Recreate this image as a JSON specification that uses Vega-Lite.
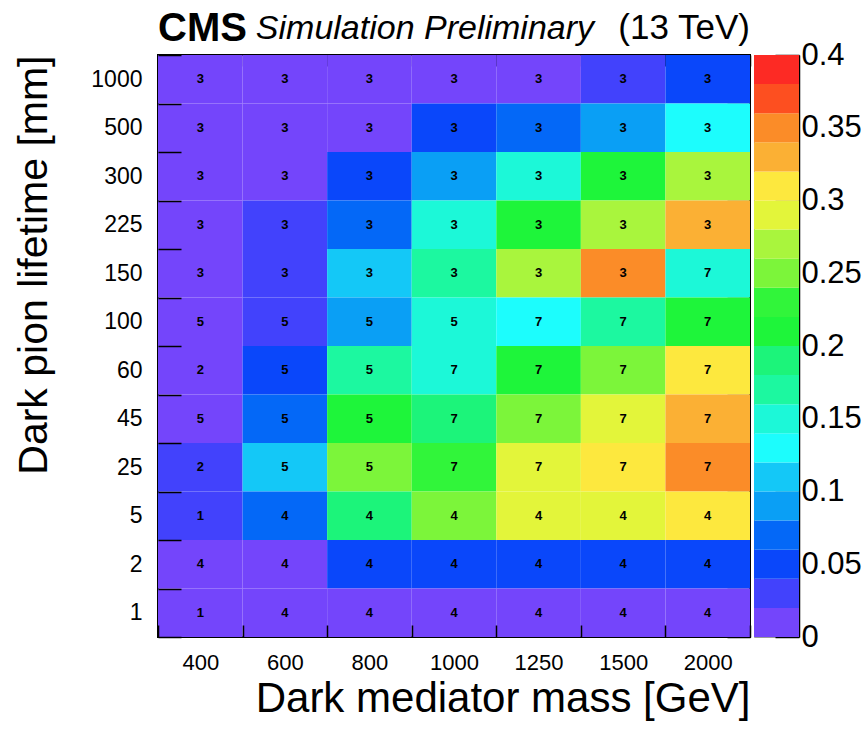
{
  "$schema": "https://vega.github.io/schema/vega-lite/v6.json",
  "background": "white",
  "padding": {"left": 12, "top": 8, "right": 2, "bottom": 4},
  "bounds": "flush",
  "spacing": 4,
  "title": {
    "text": "Simulation Preliminary",
    "fontSize": 34,
    "fontStyle": "italic",
    "fontWeight": "normal",
    "anchor": "start",
    "dx": 243,
    "dy": 42
  },
  "config": {
    "font": "Liberation Sans",
    "view": {"stroke": null},
    "title": {"font": "Liberation Sans", "color": "#000"},
    "axis": {
      "labelFont": "Liberation Sans",
      "titleFont": "Liberation Sans",
      "labelColor": "#000",
      "titleColor": "#000",
      "tickColor": "#000",
      "grid": false
    }
  },
  "datasets": {
    "eff": [
      {"mass": 400, "lifetime": 1000, "eff": 0.01, "n": 3},
      {"mass": 600, "lifetime": 1000, "eff": 0.01, "n": 3},
      {"mass": 800, "lifetime": 1000, "eff": 0.01, "n": 3},
      {"mass": 1000, "lifetime": 1000, "eff": 0.01, "n": 3},
      {"mass": 1250, "lifetime": 1000, "eff": 0.01, "n": 3},
      {"mass": 1500, "lifetime": 1000, "eff": 0.03, "n": 3},
      {"mass": 2000, "lifetime": 1000, "eff": 0.05, "n": 3},

      {"mass": 400, "lifetime": 500, "eff": 0.01, "n": 3},
      {"mass": 600, "lifetime": 500, "eff": 0.01, "n": 3},
      {"mass": 800, "lifetime": 500, "eff": 0.01, "n": 3},
      {"mass": 1000, "lifetime": 500, "eff": 0.05, "n": 3},
      {"mass": 1250, "lifetime": 500, "eff": 0.07, "n": 3},
      {"mass": 1500, "lifetime": 500, "eff": 0.09, "n": 3},
      {"mass": 2000, "lifetime": 500, "eff": 0.13, "n": 3},

      {"mass": 400, "lifetime": 300, "eff": 0.01, "n": 3},
      {"mass": 600, "lifetime": 300, "eff": 0.01, "n": 3},
      {"mass": 800, "lifetime": 300, "eff": 0.05, "n": 3},
      {"mass": 1000, "lifetime": 300, "eff": 0.09, "n": 3},
      {"mass": 1250, "lifetime": 300, "eff": 0.15, "n": 3},
      {"mass": 1500, "lifetime": 300, "eff": 0.21, "n": 3},
      {"mass": 2000, "lifetime": 300, "eff": 0.27, "n": 3},

      {"mass": 400, "lifetime": 225, "eff": 0.01, "n": 3},
      {"mass": 600, "lifetime": 225, "eff": 0.03, "n": 3},
      {"mass": 800, "lifetime": 225, "eff": 0.07, "n": 3},
      {"mass": 1000, "lifetime": 225, "eff": 0.15, "n": 3},
      {"mass": 1250, "lifetime": 225, "eff": 0.21, "n": 3},
      {"mass": 1500, "lifetime": 225, "eff": 0.27, "n": 3},
      {"mass": 2000, "lifetime": 225, "eff": 0.33, "n": 3},

      {"mass": 400, "lifetime": 150, "eff": 0.01, "n": 3},
      {"mass": 600, "lifetime": 150, "eff": 0.03, "n": 3},
      {"mass": 800, "lifetime": 150, "eff": 0.11, "n": 3},
      {"mass": 1000, "lifetime": 150, "eff": 0.17, "n": 3},
      {"mass": 1250, "lifetime": 150, "eff": 0.27, "n": 3},
      {"mass": 1500, "lifetime": 150, "eff": 0.35, "n": 3},
      {"mass": 2000, "lifetime": 150, "eff": 0.15, "n": 7},

      {"mass": 400, "lifetime": 100, "eff": 0.01, "n": 5},
      {"mass": 600, "lifetime": 100, "eff": 0.03, "n": 5},
      {"mass": 800, "lifetime": 100, "eff": 0.09, "n": 5},
      {"mass": 1000, "lifetime": 100, "eff": 0.15, "n": 5},
      {"mass": 1250, "lifetime": 100, "eff": 0.13, "n": 7},
      {"mass": 1500, "lifetime": 100, "eff": 0.17, "n": 7},
      {"mass": 2000, "lifetime": 100, "eff": 0.21, "n": 7},

      {"mass": 400, "lifetime": 60, "eff": 0.01, "n": 2},
      {"mass": 600, "lifetime": 60, "eff": 0.05, "n": 5},
      {"mass": 800, "lifetime": 60, "eff": 0.17, "n": 5},
      {"mass": 1000, "lifetime": 60, "eff": 0.15, "n": 7},
      {"mass": 1250, "lifetime": 60, "eff": 0.21, "n": 7},
      {"mass": 1500, "lifetime": 60, "eff": 0.25, "n": 7},
      {"mass": 2000, "lifetime": 60, "eff": 0.31, "n": 7},

      {"mass": 400, "lifetime": 45, "eff": 0.01, "n": 5},
      {"mass": 600, "lifetime": 45, "eff": 0.07, "n": 5},
      {"mass": 800, "lifetime": 45, "eff": 0.21, "n": 5},
      {"mass": 1000, "lifetime": 45, "eff": 0.19, "n": 7},
      {"mass": 1250, "lifetime": 45, "eff": 0.25, "n": 7},
      {"mass": 1500, "lifetime": 45, "eff": 0.29, "n": 7},
      {"mass": 2000, "lifetime": 45, "eff": 0.33, "n": 7},

      {"mass": 400, "lifetime": 25, "eff": 0.03, "n": 2},
      {"mass": 600, "lifetime": 25, "eff": 0.11, "n": 5},
      {"mass": 800, "lifetime": 25, "eff": 0.25, "n": 5},
      {"mass": 1000, "lifetime": 25, "eff": 0.23, "n": 7},
      {"mass": 1250, "lifetime": 25, "eff": 0.29, "n": 7},
      {"mass": 1500, "lifetime": 25, "eff": 0.31, "n": 7},
      {"mass": 2000, "lifetime": 25, "eff": 0.35, "n": 7},

      {"mass": 400, "lifetime": 5, "eff": 0.03, "n": 1},
      {"mass": 600, "lifetime": 5, "eff": 0.07, "n": 4},
      {"mass": 800, "lifetime": 5, "eff": 0.19, "n": 4},
      {"mass": 1000, "lifetime": 5, "eff": 0.25, "n": 4},
      {"mass": 1250, "lifetime": 5, "eff": 0.29, "n": 4},
      {"mass": 1500, "lifetime": 5, "eff": 0.29, "n": 4},
      {"mass": 2000, "lifetime": 5, "eff": 0.31, "n": 4},

      {"mass": 400, "lifetime": 2, "eff": 0.01, "n": 4},
      {"mass": 600, "lifetime": 2, "eff": 0.01, "n": 4},
      {"mass": 800, "lifetime": 2, "eff": 0.05, "n": 4},
      {"mass": 1000, "lifetime": 2, "eff": 0.05, "n": 4},
      {"mass": 1250, "lifetime": 2, "eff": 0.05, "n": 4},
      {"mass": 1500, "lifetime": 2, "eff": 0.05, "n": 4},
      {"mass": 2000, "lifetime": 2, "eff": 0.05, "n": 4},

      {"mass": 400, "lifetime": 1, "eff": 0.01, "n": 1},
      {"mass": 600, "lifetime": 1, "eff": 0.01, "n": 4},
      {"mass": 800, "lifetime": 1, "eff": 0.01, "n": 4},
      {"mass": 1000, "lifetime": 1, "eff": 0.01, "n": 4},
      {"mass": 1250, "lifetime": 1, "eff": 0.01, "n": 4},
      {"mass": 1500, "lifetime": 1, "eff": 0.01, "n": 4},
      {"mass": 2000, "lifetime": 1, "eff": 0.01, "n": 4}
    ],
    "palette": [
      {"lo": 0.0, "hi": 0.02, "mid": 0.01},
      {"lo": 0.02, "hi": 0.04, "mid": 0.03},
      {"lo": 0.04, "hi": 0.06, "mid": 0.05},
      {"lo": 0.06, "hi": 0.08, "mid": 0.07},
      {"lo": 0.08, "hi": 0.10, "mid": 0.09},
      {"lo": 0.10, "hi": 0.12, "mid": 0.11},
      {"lo": 0.12, "hi": 0.14, "mid": 0.13},
      {"lo": 0.14, "hi": 0.16, "mid": 0.15},
      {"lo": 0.16, "hi": 0.18, "mid": 0.17},
      {"lo": 0.18, "hi": 0.20, "mid": 0.19},
      {"lo": 0.20, "hi": 0.22, "mid": 0.21},
      {"lo": 0.22, "hi": 0.24, "mid": 0.23},
      {"lo": 0.24, "hi": 0.26, "mid": 0.25},
      {"lo": 0.26, "hi": 0.28, "mid": 0.27},
      {"lo": 0.28, "hi": 0.30, "mid": 0.29},
      {"lo": 0.30, "hi": 0.32, "mid": 0.31},
      {"lo": 0.32, "hi": 0.34, "mid": 0.33},
      {"lo": 0.34, "hi": 0.36, "mid": 0.35},
      {"lo": 0.36, "hi": 0.38, "mid": 0.37},
      {"lo": 0.38, "hi": 0.40, "mid": 0.39}
    ]
  },
  "hconcat": [
    {
      "width": 592,
      "height": 582,
      "view": {"stroke": "#000", "strokeWidth": 2},
      "title": {"text": "CMS", "fontSize": 40, "fontWeight": "bold", "anchor": "start", "frame": "group", "offset": -5},
      "data": {"name": "eff"},
      "layer": [
        {
          "mark": {"type": "rect"},
          "encoding": {
            "x": {
              "field": "mass", "type": "ordinal", "sort": "ascending",
              "scale": {"paddingInner": 0, "paddingOuter": 0},
              "axis": {
                "orient": "bottom", "title": "Dark mediator mass [GeV]", "titleFontSize": 42,
                "titleFontWeight": "normal", "titleAnchor": "end", "titlePadding": 5,
                "labelFontSize": 22, "labelAngle": 0, "labelPadding": 27,
                "tickBand": "extent", "tickSize": -12, "tickWidth": 1.5, "domain": false
              }
            },
            "y": {
              "field": "lifetime", "type": "ordinal", "sort": "descending",
              "scale": {"paddingInner": 0, "paddingOuter": 0},
              "axis": {
                "orient": "left", "title": "Dark pion lifetime [mm]", "titleFontSize": 41,
                "titleFontWeight": "normal", "titleAnchor": "start", "titleAlign": "right", "titlePadding": 35,
                "labelFontSize": 23, "labelPadding": 39,
                "tickBand": "extent", "tickSize": -23, "tickWidth": 1.5, "domain": false
              }
            },
            "color": {
              "field": "eff", "type": "quantitative",
              "scale": {
                "type": "quantize", "domain": [0, 0.4],
                "range": ["#7445fb", "#4242fc", "#0a47fa", "#0468f7", "#0a9ff5", "#14c8f7", "#1cfdfd", "#1cf8d8", "#1cf8a0", "#1cf47a", "#1ef53a", "#31f53a", "#7cf53a", "#a9f53d", "#e3f53a", "#fde83e", "#fbb034", "#fb8c28", "#fd4f20", "#fd2a24"]
              },
              "legend": null
            }
          }
        },
        {
          "mark": {"type": "text", "fontSize": 13, "fontWeight": "bold", "color": "#000"},
          "encoding": {
            "text": {"field": "n", "type": "quantitative"},
            "x": {
              "field": "mass", "type": "ordinal", "sort": "ascending",
              "axis": {"orient": "top", "title": null, "labels": false, "tickBand": "extent", "tickSize": -11, "tickWidth": 1.5, "domain": false}
            },
            "y": {
              "field": "lifetime", "type": "ordinal", "sort": "descending",
              "axis": {"orient": "right", "title": null, "labels": false, "tickBand": "extent", "tickSize": -23, "tickWidth": 1.5, "domain": false}
            }
          }
        }
      ],
      "resolve": {"axis": {"x": "independent", "y": "independent"}}
    },
    {
      "width": 45,
      "height": 582,
      "view": {"stroke": "#999", "strokeWidth": 1},
      "title": {"text": "(13 TeV)", "fontSize": 35, "fontWeight": "normal", "anchor": "end", "frame": "group", "dx": -49, "offset": -7},
      "data": {"name": "palette"},
      "mark": {"type": "rect"},
      "encoding": {
        "y": {
          "field": "lo", "type": "quantitative",
          "scale": {"domain": [0, 0.4], "nice": false},
          "axis": {
            "orient": "right", "title": null, "values": [0, 0.05, 0.1, 0.15, 0.2, 0.25, 0.3, 0.35, 0.4],
            "format": "~g", "labelFontSize": 31, "labelPadding": 26, "tickSize": -24, "tickWidth": 1.5,
            "domain": true, "domainColor": "#000", "domainWidth": 1.5, "labelFlush": false
          }
        },
        "y2": {"field": "hi"},
        "color": {
          "field": "mid", "type": "quantitative",
          "scale": {
            "type": "quantize", "domain": [0, 0.4],
            "range": ["#7445fb", "#4242fc", "#0a47fa", "#0468f7", "#0a9ff5", "#14c8f7", "#1cfdfd", "#1cf8d8", "#1cf8a0", "#1cf47a", "#1ef53a", "#31f53a", "#7cf53a", "#a9f53d", "#e3f53a", "#fde83e", "#fbb034", "#fb8c28", "#fd4f20", "#fd2a24"]
          },
          "legend": null
        }
      }
    }
  ],
  "resolve": {"scale": {"color": "independent"}}
}
